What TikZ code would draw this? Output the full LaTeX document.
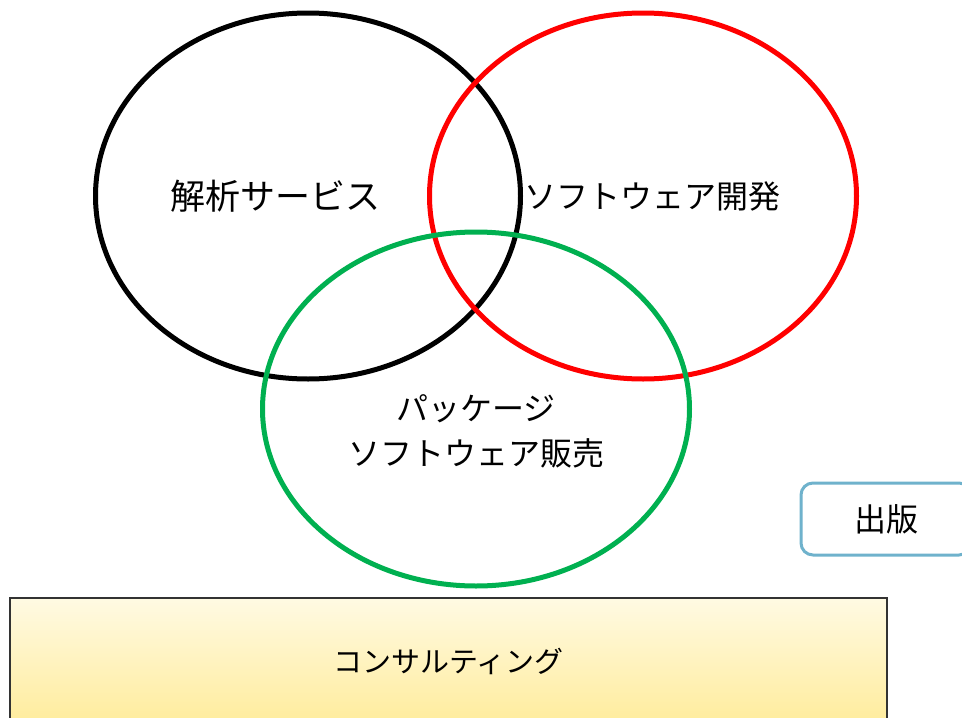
\documentclass[tikz,border=0pt]{standalone}
\usepackage{fontspec}
\newfontfamily\jp{Noto Sans CJK JP}
\definecolor{vgreen}{HTML}{00B050}
\definecolor{pubborder}{HTML}{6FB2CC}
\definecolor{constop}{HTML}{FFFAE3}
\definecolor{consbot}{HTML}{FFEC9C}
\begin{document}
\begin{tikzpicture}[x=1pt,y=-1pt,
  ring/.style={line width=5pt},
  lbl/.style={align=center, inner sep=0pt},
]
\useasboundingbox (0,0) rectangle (962,718);
\clip (0,0) rectangle (962,718);
\draw[ring, black] (308,196) ellipse [x radius=212.5, y radius=183];
\draw[ring, red] (643,196) ellipse [x radius=213.5, y radius=183];
\draw[ring, vgreen] (476,409) ellipse [x radius=213.5, y radius=177];
\node[lbl, font=\jp\fontsize{35}{40}\selectfont] (kaiseki) at (275,196) {解析サービス};
\node[lbl, font=\jp\fontsize{32}{40}\selectfont] (soft) at (652,196) {ソフトウェア開発};
\node[lbl, font=\jp\fontsize{32}{45}\selectfont] (pkg) at (476,431) {パッケージ\\ソフトウェア販売};
\node[draw=pubborder, line width=3pt, rounded corners=12pt, fill=white,
  minimum width=170pt, minimum height=72pt, inner sep=0pt,
  font=\jp\fontsize{32}{36}\selectfont] (pub) at (886,519) {出版};
\node[draw=black!80, line width=1.5pt, top color=constop, bottom color=consbot,
  minimum width=877pt, minimum height=126pt, inner sep=0pt,
  font=\jp\fontsize{29}{34}\selectfont] (cons) at (448.5,661) {コンサルティング};
\end{tikzpicture}
\end{document}
